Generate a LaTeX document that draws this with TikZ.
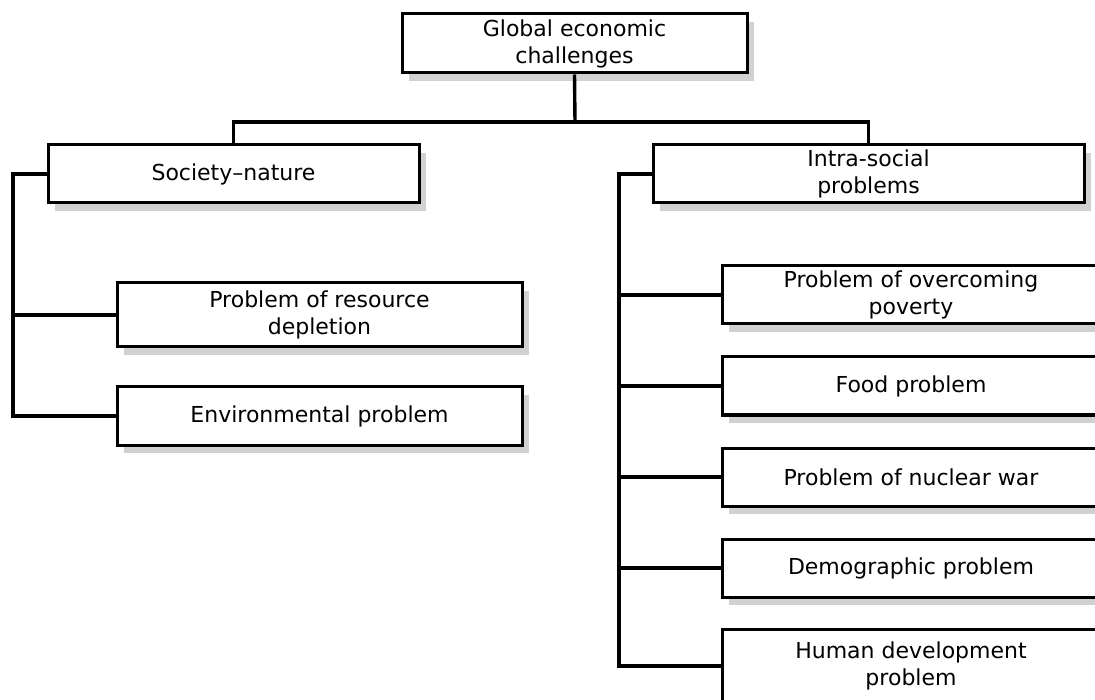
\documentclass[tikz,border=0pt]{standalone}
\usepackage{fontspec}
\setmainfont{DejaVu Sans}
\usetikzlibrary{shadows}
\tikzset{
  box/.style={draw=black, line width=3pt, fill=white, rectangle, inner sep=0pt,
    align=center, font=\fontsize{22}{27}\selectfont,
    drop shadow={shadow xshift=7pt, shadow yshift=-8pt, fill=black!18, opacity=1}},
  conn/.style={draw=black, line width=3.4pt}
}
\begin{document}
\begin{tikzpicture}[x=1pt, y=-1pt]
\useasboundingbox (0,0) rectangle (1095,700);
\clip (0,0) rectangle (1095,700);
\fill[white] (0,0) rectangle (1095,700);

\node[box, minimum width=345pt, minimum height=59pt] (top) at (574.5,43.5) {Global economic\\challenges};
\node[box, minimum width=371pt, minimum height=58pt] (sn) at (233.5,174) {Society–nature};
\node[box, minimum width=431pt, minimum height=58pt] (is) at (868.5,174) {Intra-social\\problems};

\node[box, minimum width=405pt, minimum height=64pt] (rd) at (319.5,315) {Problem of resource\\depletion};
\node[box, minimum width=405pt, minimum height=58pt] (env) at (319.5,416) {Environmental problem};

\node[box, minimum width=378pt, minimum height=58pt] (pov) at (911,295) {Problem of overcoming\\poverty};
\node[box, minimum width=378pt, minimum height=58pt] (food) at (911,386) {Food problem};
\node[box, minimum width=378pt, minimum height=58pt] (nuc) at (911,477) {Problem of nuclear war};
\node[box, minimum width=378pt, minimum height=58pt] (dem) at (911,568) {Demographic problem};
\node[box, minimum width=378pt, minimum height=74pt] (hum) at (911,666) {Human development\\problem};

\coordinate (bus) at (575,122);
\draw[conn] (top.south) -- (bus);
\draw[conn] (sn.north) |- (bus) -| (is.north);

\coordinate (lb) at (13,174);
\draw[conn] (sn.west) -- (lb) |- (env.west);
\draw[conn] (lb |- rd.west) -- (rd.west);

\coordinate (rb) at (619,174);
\draw[conn] (is.west) -- (rb) |- (hum.west);
\draw[conn] (rb |- pov.west) -- (pov.west);
\draw[conn] (rb |- food.west) -- (food.west);
\draw[conn] (rb |- nuc.west) -- (nuc.west);
\draw[conn] (rb |- dem.west) -- (dem.west);
\end{tikzpicture}
\end{document}
